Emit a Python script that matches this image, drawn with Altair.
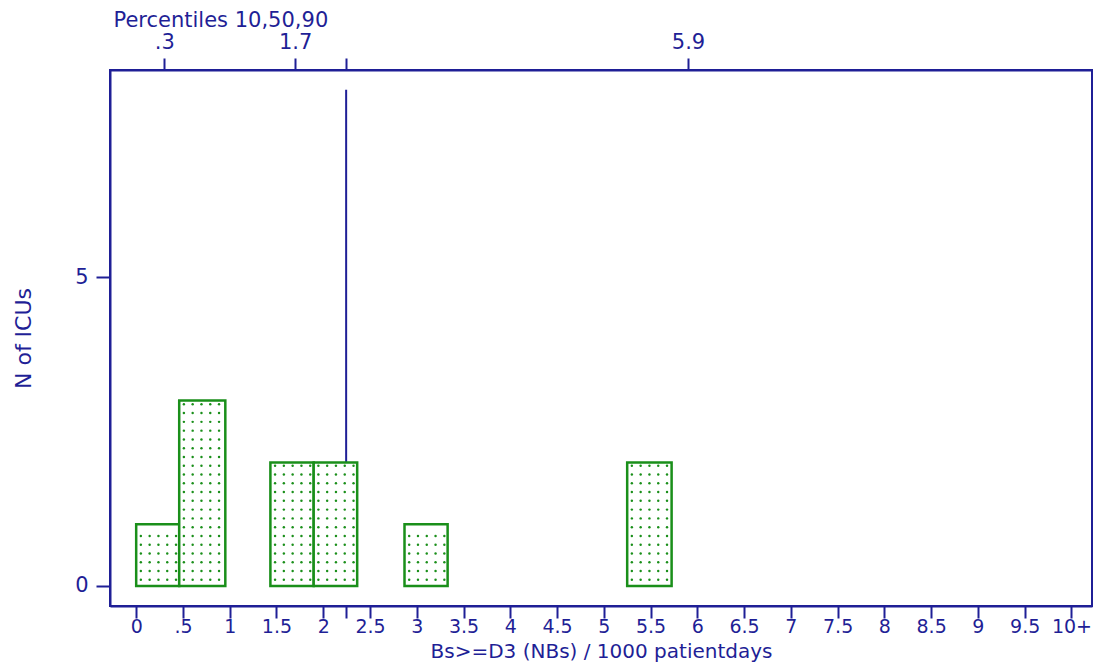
import json
import altair as alt
import pandas as pd

# ---- data ----
bin_start = [0.0, 0.46, 1.435, 1.898, 2.869, 5.25]
bin_end = [0.46, 0.953, 1.898, 2.363, 3.33, 5.725]
n_icus = [1, 3, 2, 2, 1, 2]

x_tick_values = [0, 0.5, 1, 1.5, 2, 2.5, 3, 3.5, 4, 4.5, 5, 5.5, 6, 6.5, 7, 7.5, 8, 8.5, 9, 9.5, 10]
x_tick_labels = ["0", ".5", "1", "1.5", "2", "2.5", "3", "3.5", "4", "4.5", "5", "5.5",
                 "6", "6.5", "7", "7.5", "8", "8.5", "9", "9.5", "10+"]
y_tick_values = [0, 5]
pct_values = [0.3, 1.7, 5.9]
pct_labels = [".3", "1.7", "5.9"]
mean_value = 2.245
mean_line_top = 8.03

# ---- styling ----
NAVY = "#1f1f96"
GREEN = "#1a8f1a"
FONT = "DejaVu Sans"

bars = pd.DataFrame({"x0": bin_start, "x1": bin_end, "n": n_icus})
mean_df = pd.DataFrame({"mean": [mean_value], "top": [mean_line_top]})

# dotted fill texture derived from the bars
dot_dx, dot_dy = 0.094, 0.142
dots = []
for x0, x1, n in zip(bin_start, bin_end, n_icus):
    k = 0
    while x0 + 0.05 + k * dot_dx < x1 - 0.02:
        m = 0
        while 0.1 + m * dot_dy < n - 0.05:
            dots.append({"x": x0 + 0.05 + k * dot_dx, "y": 0.1 + m * dot_dy})
            m += 1
        k += 1
dots_df = pd.DataFrame(dots)

bottom_vals = x_tick_values + [mean_value]
bottom_labs = x_tick_labels + [""]
top_vals = pct_values + [mean_value]
top_labs = pct_labels + [""]


def label_expr(vals, labs):
    return f"{json.dumps(labs)}[indexof({json.dumps(vals)}, datum.value)]"


x_scale = alt.Scale(domain=[-0.28, 10.22], nice=False, zero=False)
y_scale = alt.Scale(domain=[-0.324, 8.35], nice=False, zero=False)

y_axis = alt.Axis(
    values=y_tick_values, title="N of ICUs", orient="left",
    tickSize=14, labelPadding=8, labelFontSize=21,
    titleFontSize=22, titleX=-87, titleY=268, titleAngle=-90,
    titleBaseline="middle", titleAlign="center",
)

bottom_axis = alt.Axis(
    values=bottom_vals, labelExpr=label_expr(bottom_vals, bottom_labs),
    orient="bottom", title="Bs>=D3 (NBs) / 1000 patientdays",
    tickSize=12, labelPadding=-1, labelFontSize=19, labelOverlap=False,
    titleFontSize=20, titleY=51, titleBaseline="alphabetic",
)

top_axis = alt.Axis(
    values=top_vals, labelExpr=label_expr(top_vals, top_labs),
    orient="top", title="Percentiles 10,50,90",
    tickSize=12, labelPadding=6, labelFontSize=21, labelOverlap=False,
    titleFontSize=21, titleX=3, titleY=-44, titleAlign="left",
    titleAnchor="start", titleBaseline="alphabetic",
)

rule = alt.Chart(mean_df).mark_rule(color=NAVY, strokeWidth=2).encode(
    x=alt.X("mean:Q", scale=x_scale, axis=top_axis),
    y=alt.Y("top:Q", scale=y_scale, axis=y_axis),
    y2=alt.datum(0),
)

rects = alt.Chart(bars).mark_rect(fill="white", stroke=GREEN, strokeWidth=2.5).encode(
    x=alt.X("x0:Q", scale=x_scale, axis=bottom_axis),
    x2="x1:Q",
    y=alt.Y("n:Q", scale=y_scale, axis=y_axis),
    y2=alt.datum(0),
)

dot_layer = alt.Chart(dots_df).mark_circle(color=GREEN, size=6, opacity=1).encode(
    x=alt.X("x:Q", scale=x_scale, axis=None),
    y=alt.Y("y:Q", scale=y_scale, axis=y_axis),
)

chart = (
    alt.layer(rule, rects, dot_layer)
    .resolve_axis(x="independent")
    .properties(
        width=982, height=536,
        autosize=alt.AutoSizeParams(type="none"),
        padding={"left": 102, "top": 62, "right": 1, "bottom": 57},
        background="white",
    )
    .configure_view(stroke=NAVY, strokeWidth=2)
    .configure_axis(
        grid=False, domainColor=NAVY, domainWidth=2, tickColor=NAVY, tickWidth=2,
        labelColor=NAVY, titleColor=NAVY, labelFont=FONT, titleFont=FONT,
        titleFontWeight="normal",
    )
)

chart.save("out.html", embed_options={"renderer": "svg", "actions": False})
